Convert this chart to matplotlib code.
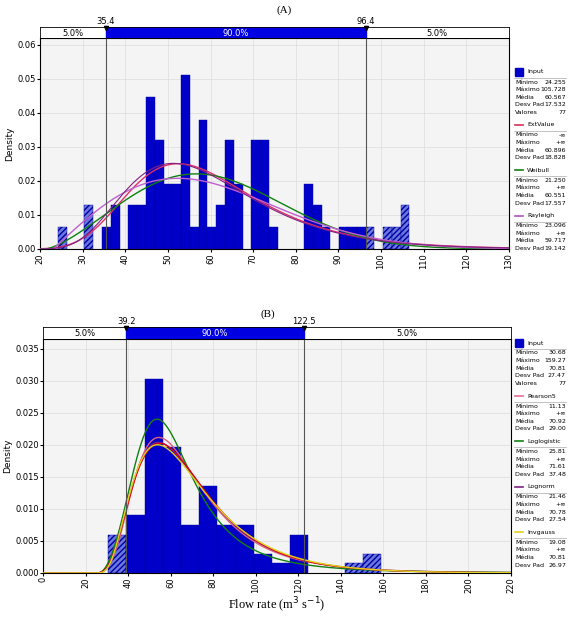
import numpy as np, math
import matplotlib
matplotlib.use("Agg")
import matplotlib.pyplot as plt
from matplotlib.patches import Rectangle

# ---------- data A ----------
a_start, a_width = 24.25, 2.06
a_heights = [0.0064,0,0,0.0128,0,0.0064,0.0128,0,0.0128,0.0128,
             0.0447,0.032,0.019,0.019,0.051,0.0064,0.038,0.0064,0.0128,0.032,
             0.019,0,0.032,0.032,0.0064,0,0,0,0.019,0.0128,
             0.0064,0,0.0064,0.0064,0.0064,0.0064,0,0.0064,0.0064,0.0128]
a_lo, a_hi = 35.4, 96.4
# ---------- data B ----------
b_start, b_width = 30.68, 8.55
b_heights = [0.006,0.009,0.0302,0.0196,0.0075,0.0135,0.0075,0.0075,0.003,0.0015,
             0.006,0,0,0.0015,0.003]
b_lo, b_hi = 39.2, 122.5

a_stats = [("Input", "#0000c8", [("Mínimo","24.255"),("Máximo","105.728"),("Média","60.567"),("Desv Pad","17.532"),("Valores","77")]),
           ("ExtValue", "#d0305a", [("Mínimo","-∞"),("Máximo","+∞"),("Média","60.896"),("Desv Pad","18.828")]),
           ("Weibull", "#108010", [("Mínimo","21.250"),("Máximo","+∞"),("Média","60.551"),("Desv Pad","17.557")]),
           ("Rayleigh", "#b050c0", [("Mínimo","23.096"),("Máximo","+∞"),("Média","59.717"),("Desv Pad","19.142")])]
b_stats = [("Input", "#0000c8", [("Mínimo","30.68"),("Máximo","159.27"),("Média","70.81"),("Desv Pad","27.47"),("Valores","77")]),
           ("Pearson5", "#e07090", [("Mínimo","11.13"),("Máximo","+∞"),("Média","70.92"),("Desv Pad","29.00")]),
           ("Loglogistic", "#108010", [("Mínimo","25.81"),("Máximo","+∞"),("Média","71.61"),("Desv Pad","37.48")]),
           ("Lognorm", "#802080", [("Mínimo","21.46"),("Máximo","+∞"),("Média","70.78"),("Desv Pad","27.54")]),
           ("Invgauss", "#e0d020", [("Mínimo","19.08"),("Máximo","+∞"),("Média","70.81"),("Desv Pad","26.97")])]

# fitted distribution pdfs
def gumbel(x, mu=52.4, b=14.68):
    z=(x-mu)/b; return np.exp(-z-np.exp(-z))/b
def weibull(x, loc=21.25, k=2.4, lam=44.3):
    t=np.clip((x-loc)/lam,0,None); return (k/lam)*t**(k-1)*np.exp(-t**k)
def rayleigh(x, loc=23.1, s=29.2):
    t=np.clip(x-loc,0,None); return t/s**2*np.exp(-t**2/(2*s**2))
def lognorm(x, loc=21.46, mu=3.762, s=0.521):
    t=np.clip(x-loc,1e-9,None); return np.exp(-(np.log(t)-mu)**2/(2*s*s))/(t*s*np.sqrt(2*np.pi))
def invgauss(x, loc=19.08, mu=51.73, lam=190.3):
    t=np.clip(x-loc,1e-9,None); return np.sqrt(lam/(2*np.pi*t**3))*np.exp(-lam*(t-mu)**2/(2*mu*mu*t))
def pearson5(x, loc=11.13, a=6.25, b=313.9):
    t=np.clip(x-loc,1e-9,None); return b**a/math.gamma(a)*t**(-a-1)*np.exp(-b/t)
def loglogistic(x, loc=25.81, al=35.0, be=3.0):
    t=np.clip(x-loc,0,None)/al; return (be/al)*t**(be-1)/(1+t**be)**2

fig = plt.figure(figsize=(5.68,6.22), dpi=100)
W,H=568,622
def ax_at(l,t,r,b): return fig.add_axes([l/W,1-b/H,(r-l)/W,(b-t)/H])

def panel(ax, bax, start, width, heights, lo, hi, xlim, ylim, yticks, yfmt, xticks, curves):
    ax.set_facecolor("#f4f4f4")
    for i,h in enumerate(heights):
        if h<=0: continue
        l=start+i*width; c=l+width/2
        inside = lo<=c<=hi
        ax.bar(l, h, width=width, align="edge", color="#0000c8" if inside else "#6a78e0",
               edgecolor="#0000a0", linewidth=0.3, hatch=None if inside else "//////", zorder=2)
    x=np.linspace(xlim[0],xlim[1],800)
    for f,c,lw in curves:
        ax.plot(x,f(x),color=c,lw=lw,zorder=3)
    ax.axvline(lo,color="#555",lw=0.8,zorder=4); ax.axvline(hi,color="#555",lw=0.8,zorder=4)
    ax.set_xlim(xlim); ax.set_ylim(ylim)
    ax.set_yticks(yticks); ax.set_yticklabels([yfmt.format(v) for v in yticks],fontsize=6)
    ax.set_xticks(xticks); ax.set_xticklabels([str(v) for v in xticks],rotation=90,fontsize=6)
    ax.grid(True,color="#dddddd",lw=0.5,zorder=0)
    ax.set_ylabel("Density",fontsize=6.5,labelpad=2)
    ax.tick_params(length=2,pad=1)
    # band
    bax.set_xlim(xlim); bax.set_ylim(0,1); bax.set_xticks([]); bax.set_yticks([])
    bax.axvspan(lo,hi,color="#0000e0")
    for s in bax.spines.values(): s.set_linewidth(0.6)
    bax.text((xlim[0]+lo)/2,0.45,"5.0%",ha="center",va="center",fontsize=6)
    bax.text((lo+hi)/2,0.45,"90.0%",ha="center",va="center",fontsize=6,color="white")
    bax.text((hi+xlim[1])/2,0.45,"5.0%",ha="center",va="center",fontsize=6)
    for v in (lo,hi):
        bax.text(v,1.05,f"{v:.1f}",ha="center",va="bottom",fontsize=6)
        bax.plot([v],[0.95],marker="v",color="k",ms=3,clip_on=False)

def legend(stats, top, dy=7.6):
    y=top
    for name,c,rows in stats:
        if name=="Input":
            fig.patches.append(Rectangle((515/W,1-(y+4)/H),8/W,8/H,color=c,transform=fig.transFigure))
        else:
            fig.lines.append(plt.Line2D([515/W,523/W],[1-y/H]*2,color=c,lw=1.2,transform=fig.transFigure))
        fig.text(527/W,1-y/H,name,fontsize=4.5,va="center")
        y+=6
        fig.lines.append(plt.Line2D([514/W,566/W],[1-y/H]*2,color="#aaaaaa",lw=0.5,transform=fig.transFigure))
        y+=4
        for k,v in rows:
            fig.text(515/W,1-y/H,k,fontsize=4.5,va="center")
            fig.text(566/W,1-y/H,v,fontsize=4.5,va="center",ha="right")
            y+=dy
        y+=5

axA=ax_at(40,38,509,249); bA=ax_at(40,27,509,38)
panel(axA,bA,a_start,a_width,a_heights,a_lo,a_hi,(20,130),(0,0.062),
      [0,0.01,0.02,0.03,0.04,0.05,0.06],"{:.2f}",list(range(20,131,10)),
      [(gumbel,"#e0306a",1.0),(weibull,"#108010",1.0),(rayleigh,"#c060d0",1.0),
       (lambda x: lognorm(x,10,3.85,0.36),"#802080",0.8)])
fig.text(284/W,1-10/H,"(A)",ha="center",va="center",fontsize=8,family="Liberation Serif")
legend(a_stats,72)

axB=ax_at(43,339,511,573); bB=ax_at(43,327,511,339)
panel(axB,bB,b_start,b_width,b_heights,b_lo,b_hi,(0,220),(0,0.0365),
      [0,0.005,0.010,0.015,0.020,0.025,0.030,0.035],"{:.3f}",list(range(0,221,20)),
      [(pearson5,"#e06080",1.0),(loglogistic,"#108010",1.0),(lognorm,"#802080",1.0),
       (lambda x: lognorm(x,20.0,3.80,0.50),"#e00000",0.8),
       (invgauss,"#e0d020",1.0)])
fig.text(268/W,1-314/H,"(B)",ha="center",va="center",fontsize=8,family="Liberation Serif")
fig.text(277/W,1-605/H,"Flow rate (m$^3$ s$^{-1}$)",ha="center",va="center",fontsize=9,family="Liberation Serif")
legend(b_stats,343)

fig.savefig("out.png",dpi=100)
